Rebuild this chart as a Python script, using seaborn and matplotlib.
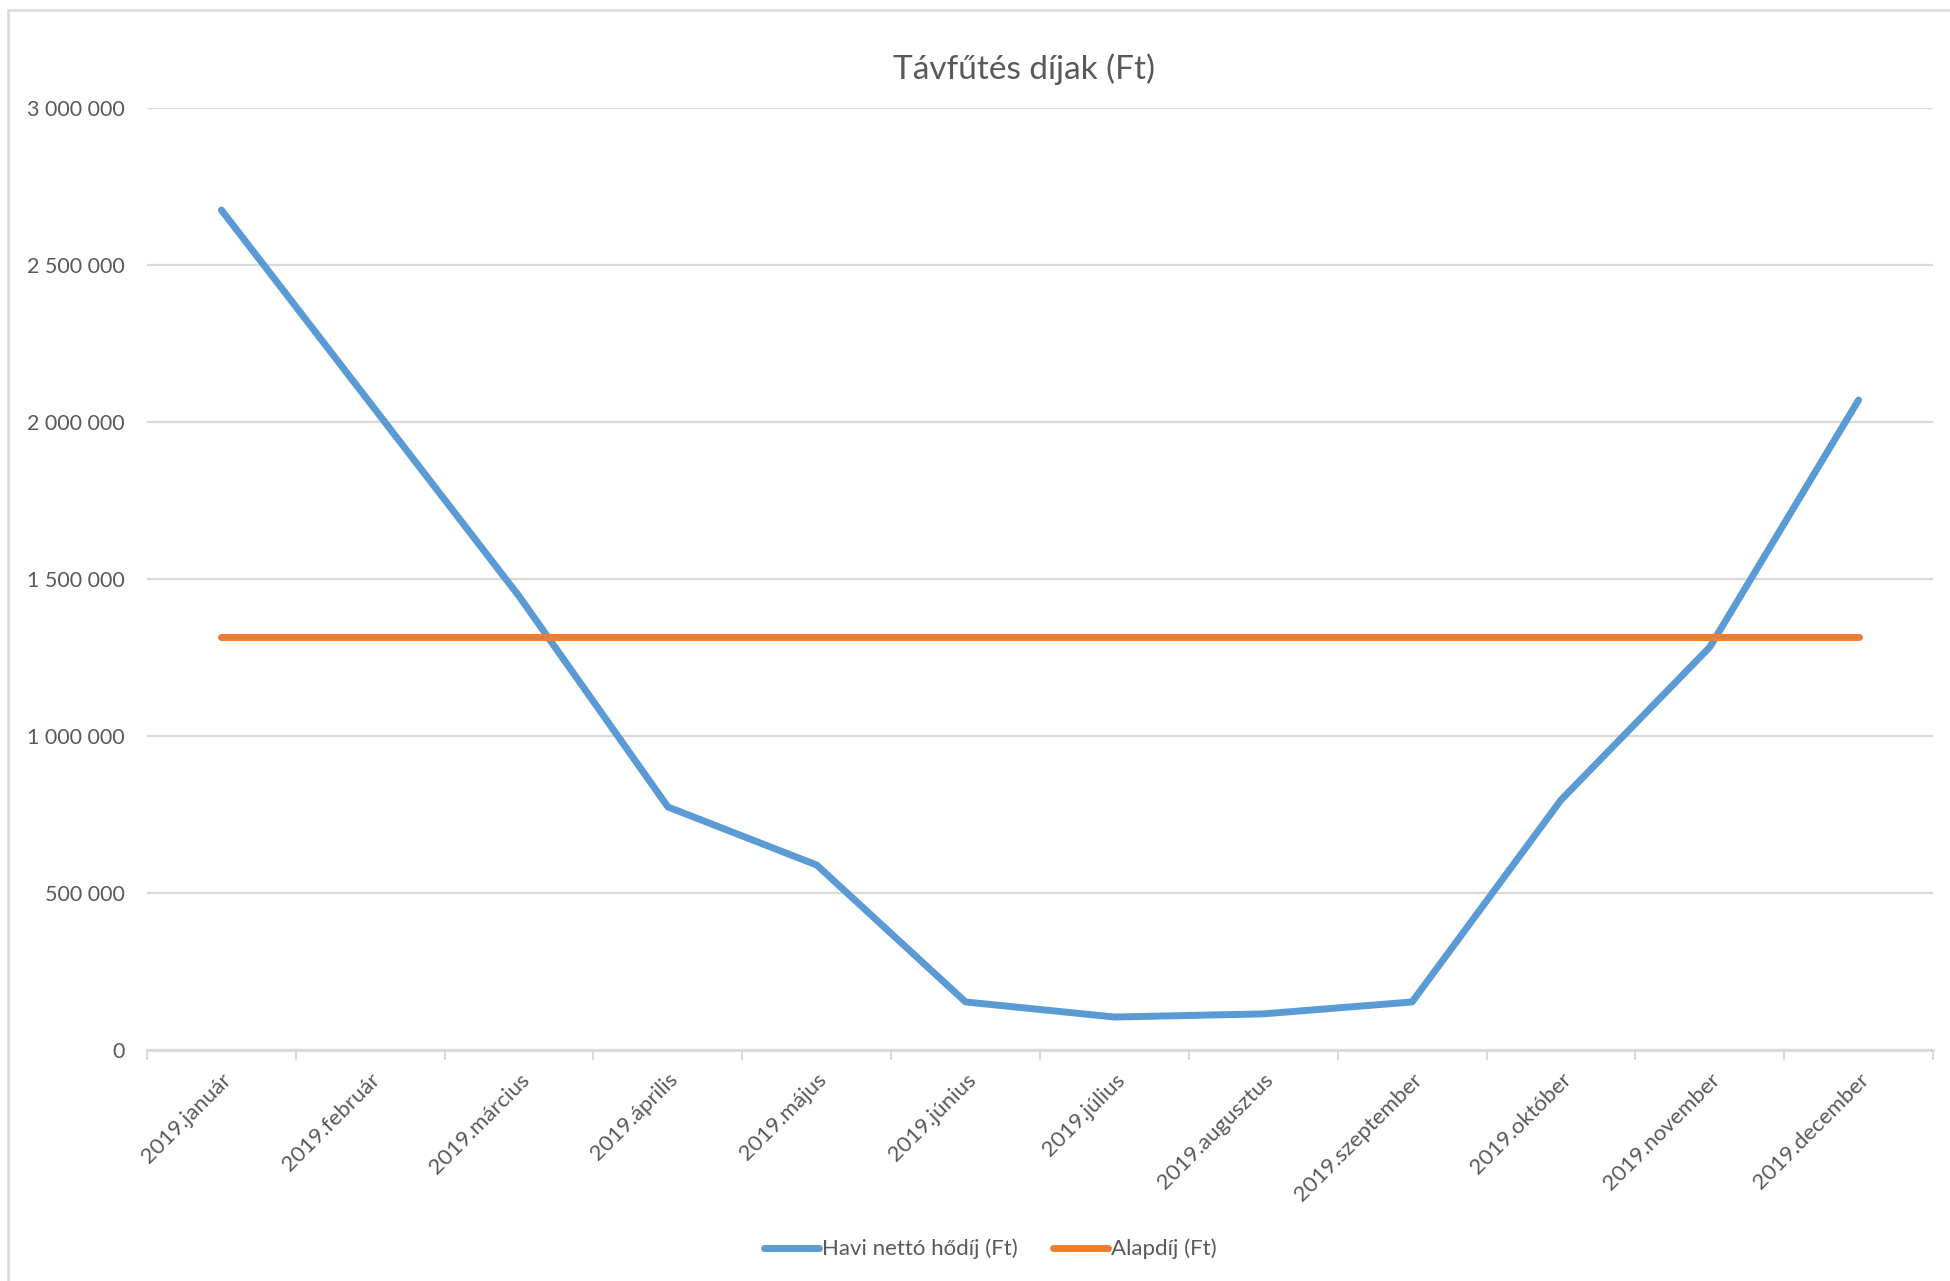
import pandas as pd
import numpy as np
import matplotlib
matplotlib.use('Agg')
import matplotlib.pyplot as plt
import seaborn as sns
from matplotlib.ticker import FuncFormatter, FixedLocator
from matplotlib.patches import Rectangle

# data
honapok = ['2019.január', '2019.február', '2019.március', '2019.április',
           '2019.május', '2019.június', '2019.július', '2019.augusztus',
           '2019.szeptember', '2019.október', '2019.november', '2019.december']
havi_netto_hodij = [2675000, 2060000, 1445000, 774000, 589000, 153000,
                    105000, 115000, 153000, 796000, 1283000, 2070000]
alapdij = [1315000] * 12

sor_nevek = ['Havi nettó hődíj (Ft)', 'Alapdíj (Ft)']
szinek = ['#5B9BD5', '#ED7D31']

sns.set_theme(style='white')
plt.rcParams['font.family'] = ['Lato', 'DejaVu Sans']

df = pd.concat([
    pd.DataFrame({'honap': honapok, 'ertek': havi_netto_hodij, 'sor': sor_nevek[0]}),
    pd.DataFrame({'honap': honapok, 'ertek': alapdij, 'sor': sor_nevek[1]}),
])

fig = plt.figure(figsize=(19.5, 12.81), dpi=100)
ax = fig.add_axes([147 / 1950, 1 - 1050 / 1281, (1933 - 147) / 1950, (1050 - 108) / 1281])

sns.lineplot(data=df, x='honap', y='ertek', hue='sor', sort=False,
             palette=dict(zip(sor_nevek, szinek)), linewidth=5,
             solid_capstyle='round', ax=ax)

grey = '#d9d9d9'
text_col = '#595959'

ax.set_xlim(-0.5, len(honapok) - 0.5)
ax.set_ylim(0, 3000000)
ax.yaxis.set_major_locator(FixedLocator(np.arange(0, 3000001, 500000)))
ax.yaxis.set_major_formatter(FuncFormatter(lambda v, p: f'{v:,.0f}'.replace(',', ' ')))
ax.grid(axis='y', color=grey, linewidth=1.6)
ax.set_axisbelow(True)

for s in ['top', 'right', 'left']:
    ax.spines[s].set_visible(False)
ax.spines['bottom'].set_color(grey)
ax.spines['bottom'].set_linewidth(2)

ax.set_xticks(range(len(honapok)))
ax.set_xticklabels(honapok, rotation=45, ha='right', rotation_mode='anchor')
ax.set_xticks(np.arange(-0.5, len(honapok)), minor=True)
ax.tick_params(axis='x', which='major', length=0, pad=14, labelsize=16, labelcolor=text_col)
ax.tick_params(axis='x', which='minor', length=7, width=1.5, color=grey, bottom=True)
ax.tick_params(axis='y', length=0, pad=16, labelsize=15.5, labelcolor=text_col)
ax.set_xlabel('')
ax.set_ylabel('')

handles, labels = ax.get_legend_handles_labels()
ax.get_legend().remove()
fig.legend(handles, labels, loc='center', bbox_to_anchor=(990 / 1950, 1 - 1249 / 1281),
           ncol=2, frameon=False, fontsize=16, labelcolor=text_col,
           handlelength=2.5, handletextpad=0.1, columnspacing=1.6)

fig.text(1024 / 1950, 1 - 69 / 1281, 'Távfűtés díjak (Ft)', ha='center', va='center',
         fontsize=24, color=text_col)

# chart area frame
fig.patches.append(Rectangle((8 / 1950, -0.1), 1.2, 1 - 10 / 1281 + 0.1,
                             transform=fig.transFigure, fill=False,
                             edgecolor=grey, linewidth=1.8))

fig.savefig('out.png', dpi=100)
